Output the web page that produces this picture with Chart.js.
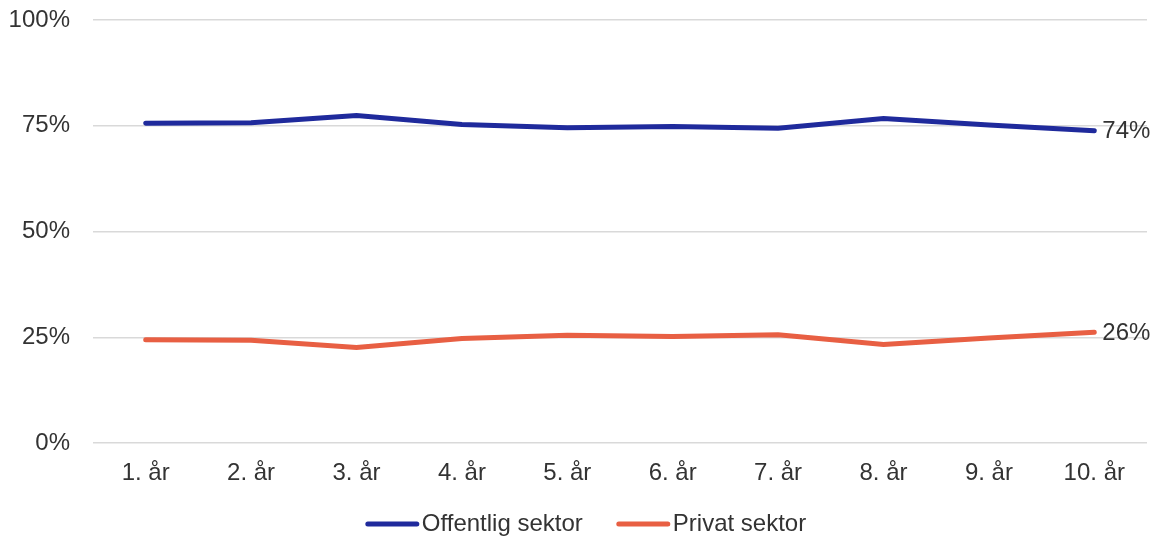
<!DOCTYPE html>
<html>
<head>
<meta charset="utf-8">
<script src="https://cdn.jsdelivr.net/npm/chart.js@4/dist/chart.umd.min.js"></script>
<style>
  html, body { margin: 0; padding: 0; background: #fff; }
  #wrap { width: 1172px; height: 539px; position: relative; }
</style>
</head>
<body>
<div id="wrap"><canvas id="chart"></canvas></div>
<script>
const years = ['1. år', '2. år', '3. år', '4. år', '5. år', '6. år', '7. år', '8. år', '9. år', '10. år'];
const offentlig = [75.6, 75.7, 77.4, 75.3, 74.5, 74.8, 74.4, 76.7, 75.2, 73.8];
const privat = [24.4, 24.3, 22.6, 24.7, 25.5, 25.2, 25.6, 23.3, 24.8, 26.2];
const endLabels = ['74%', '26%'];

const blue = '#1f2a9c';
const red = '#e85f43';
const textColor = '#333333';
const fontStr = "24px 'Liberation Sans', Arial, sans-serif";

Chart.defaults.font.family = "'Liberation Sans', Arial, sans-serif";
Chart.defaults.font.size = 24;
Chart.defaults.color = textColor;

// labels at the end of each line
const endLabelPlugin = {
    id: 'endLabels',
    afterDatasetsDraw(chart) {
        const ctx = chart.ctx;
        ctx.save();
        ctx.font = fontStr;
        ctx.fillStyle = textColor;
        ctx.textAlign = 'left';
        ctx.textBaseline = 'middle';
        chart.data.datasets.forEach((ds, i) => {
            const pts = chart.getDatasetMeta(i).data;
            const last = pts[pts.length - 1];
            ctx.fillText(endLabels[i], last.x + 8, last.y + 1);
        });
        ctx.restore();
    }
};

// legend drawn by hand so the line sample sits right against the text
const lineLegendPlugin = {
    id: 'lineLegend',
    afterDraw(chart) {
        const ctx = chart.ctx;
        const lineW = 53, gap = 3, itemGap = 34, y = 524;
        ctx.save();
        ctx.font = fontStr;
        ctx.textBaseline = 'middle';
        const items = chart.data.datasets.map(ds => ({
            text: ds.label, color: ds.borderColor, w: lineW + gap + ctx.measureText(ds.label).width,
        }));
        const total = items.reduce((s, it) => s + it.w, 0) + itemGap * (items.length - 1);
        let x = chart.width / 2 - total / 2;
        items.forEach(it => {
            ctx.strokeStyle = it.color;
            ctx.lineWidth = 5;
            ctx.lineCap = 'round';
            ctx.beginPath();
            ctx.moveTo(x + 2, y);
            ctx.lineTo(x + lineW - 2, y);
            ctx.stroke();
            ctx.fillStyle = textColor;
            ctx.fillText(it.text, x + lineW + gap, y);
            x += it.w + itemGap;
        });
        ctx.restore();
    }
};

new Chart(document.getElementById('chart'), {
    type: 'line',
    data: {
        labels: years,
        datasets: [
            {
                label: 'Offentlig sektor',
                data: offentlig,
                borderColor: blue,
                backgroundColor: blue,
                borderWidth: 5,
                pointRadius: 0,
                tension: 0,
                borderCapStyle: 'round',
            },
            {
                label: 'Privat sektor',
                data: privat,
                borderColor: red,
                backgroundColor: red,
                borderWidth: 5,
                pointRadius: 0,
                tension: 0,
                borderCapStyle: 'round',
            },
        ],
    },
    options: {
        responsive: true,
        maintainAspectRatio: false,
        animation: false,
        layout: { padding: { top: 20, right: 25, left: 0, bottom: 40 } },
        plugins: {
            legend: { display: false },
            tooltip: { enabled: false },
        },
        scales: {
            y: {
                min: 0,
                max: 100,
                border: { display: false },
                grid: { color: '#d9d9d9', lineWidth: 1.5, drawTicks: false },
                ticks: {
                    stepSize: 25,
                    padding: 23,
                    callback: v => v + '%',
                },
                afterFit(scale) {
                    scale.width = 93;
                    scale.paddingTop = 0;
                    scale.paddingBottom = 0;
                },
            },
            x: {
                offset: true,
                border: { display: false },
                grid: { display: false, drawTicks: false },
                ticks: { padding: 16, maxRotation: 0 },
                afterFit(scale) {
                    scale.height = 56;
                    scale.paddingLeft = 0;
                    scale.paddingRight = 0;
                },
            },
        },
    },
    plugins: [endLabelPlugin, lineLegendPlugin],
});
</script>
</body>
</html>
